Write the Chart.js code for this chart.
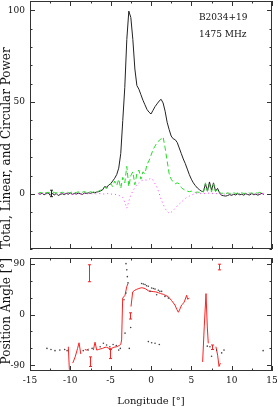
<!DOCTYPE html>
<html>
<head>
<meta charset="utf-8">
<script src="https://cdn.jsdelivr.net/npm/chart.js@4.4.0/dist/chart.umd.min.js"></script>
<style>
  html, body { margin: 0; padding: 0; background: #fff; }
  #wrap { position: relative; width: 278px; height: 407px; }
  canvas { position: absolute; left: 0; }
  #powerChart { top: 0; }
  #paChart { top: 253px; }
</style>
</head>
<body>
<div id="wrap">
  <canvas id="powerChart" width="278" height="253"></canvas>
  <canvas id="paChart" width="278" height="154"></canvas>
</div>
<script>
  // longitude grid (deg) for the profile panel
  const lon = [
    -14, -13.75, -13.5, -13.25, -13, -12.75, -12.5, -12.25, -12, -11.75,
    -11.5, -11.25, -11, -10.75, -10.5, -10.25, -10, -9.75, -9.5, -9.25,
    -9, -8.75, -8.5, -8.25, -8, -7.75, -7.5, -7.25, -7, -6.75,
    -6.5, -6.25, -6, -5.75, -5.5, -5.25, -5, -4.75, -4.5, -4.25,
    -4, -3.75, -3.5, -3.25, -3, -2.75, -2.5, -2.25, -2, -1.75,
    -1.5, -1.25, -1, -0.75, -0.5, -0.25, 0, 0.25, 0.5, 0.75,
    1, 1.25, 1.5, 1.75, 2, 2.25, 2.5, 2.75, 3, 3.25,
    3.5, 3.75, 4, 4.25, 4.5, 4.75, 5, 5.25, 5.5, 5.75,
    6, 6.25, 6.5, 6.75, 7, 7.25, 7.5, 7.75, 8, 8.25,
    8.5,
    8.75, 9, 9.25, 9.5, 9.75, 10, 10.25, 10.5, 10.75, 11,
    11.25, 11.5, 11.75, 12, 12.25, 12.5, 12.75, 13, 13.25, 13.5,
    13.75, 14
  ];

  const totalPower = [
    0.3, -0.2, 0.4, -0.5, 0.2, 0.6, -0.8, 0.3, -0.6, 0.2,
    -0.9, -0.3, 0.1, -0.4, 0.3, -0.2, 0.5, -0.3, 0.2, -0.1,
    0.4, 0.1, -0.3, 0.5, 0.2, 0.6, 0.3, 0.8, 0.6, 1.0,
    1.2, 1.6, 2.2, 4.0, 3.6, 4.8, 5.5, 7.0, 8.5, 10.5,
    14, 22, 40, 58, 84, 99.5, 96, 84, 68, 59,
    57, 54, 51, 48.5, 46, 44.5, 43.5, 45.5, 47.5, 49,
    50.5, 51.5, 49.5, 45, 39, 35, 31.5, 30, 29.5, 28,
    25, 22, 19, 16.5, 13.5, 10.5, 8, 6, 4.5, 3.2,
    2.3, 1.5, 1.2, 5.5, 1.5, 6.5, 2, 6, 1.5, 3,
    0.5,
    -0.8, -1, -1.2, -0.9, -0.4, -0.8, -0.2, -0.6, 0.1, -0.5,
    -0.2, -0.7, 0.1, -0.4, -0.6, 0.2, -0.5, -0.1, -0.7, -0.2,
    0.3, -0.3
  ];

  const linearPower = [
    0.2, 0.8, 0.5, 1.0, 0.6, 0.9, 0.4, 1.2, 0.7, 0.5,
    1.1, 0.6, 0.9, 0.4, 1.0, 0.7, 0.5, 1.2, 0.6, 0.8,
    1.1, 0.5, 0.9, 1.3, 0.7, 1.0, 1.2, 0.8, 1.4, 1.1,
    1.5, 2.0, 2.5, 3.5, 3, 4, 5.5, 4, 7, 4.5,
    8, 3, 9, 6, 15, 4, 10, 12, 5, 11,
    13, 8, 12, 11, 16, 18, 21, 24, 26, 28,
    29, 30, 31, 25, 18, 11, 8, 6.5, 5.5, 6,
    5.5, 3.5, 2.5, 2.0, 1.5, 1.2, 1.5, 1.0, 0.8, 1.0,
    0.8, 1.5, 1.0, 6, 1.5, 5, 1, 5.5, 1.2, 2.5,
    0.8,
    0.2, 0.5, 0.1, 0.6, 0.2, 0.4, 0.7, 0.1, 0.5, 0.3,
    0.6, 0.2, 0.4, 0.8, 0.3, 0.5, 0.1, 0.6, 0.4, 0.9,
    0.3, 0.5
  ];

  const circularPower = [
    0.2, -0.3, 0.1, 0.3, -0.2, 0.4, 0, -0.3, 0.2, 0.1,
    -0.2, 0.3, 0, 0.2, -0.1, 0.3, 0.1, -0.2, 0.2, 0,
    0.3, -0.1, 0.1, 0.2, -0.2, 0.1, 0.3, 0, 0.2, -0.1,
    0.1, 0.2, 0, -0.1, 0.1, 0.2, -0.2, 0, -0.2, -0.5,
    -0.8, -1.2, -2, -4.5, -7.8, -4, -0.5, 1.5, 3.5, 5,
    6, 7, 7.5, 7.6, 7.5, 8, 8.5, 7.5, 5.5, 3.5,
    0.5, -3, -5.5, -8, -9.5, -10.5, -10, -9, -7.8, -6.5,
    -5.5, -4.5, -3.5, -2.5, -1.8, -1.2, -0.6, -0.2, 0.2, 0.5,
    0.3, 0.2, 0.4, 0.1, 0.3, 0.5, 0.2, 0.3, 0.1, 0.2,
    0,
    -0.2, 0.1, -0.3, 0.2, 0, -0.2, 0.3, -0.1, 0.1, 0.2,
    -0.3, 0, 0.2, -0.2, 0.1, 0.3, -0.1, 0, 0.2, -0.2,
    0.1, 0.3
  ];

  // off-pulse error bar on the total power
  const powerErrLon = [-12.4];
  const powerErrLo = [-1.5];
  const powerErrHi = [2];

  // position angle swing (red), null = break in the curve
  const paLon = [
    -10.25, -10.12, -10.05, -9.7, -9.4, -9.1, -8.92, -8.7, -8.5, -8.2,
    -7.95, -7.75, -7.4, -7.15, -6.94, -6.73, -6.5, -6.3, -6.0, -5.7,
    -5.5, -5.2, -4.9, -4.6, -4.25, -3.95, -3.75, -3.64, -3.51, -3.22,
    -3.01, -2.85, -2.6, -2.48, -2.27, -2.0, -1.78, -1.5, -1.16, -0.74,
    -0.33, 0, 0.29, 0.6, 0.91, 1.2, 1.53, 1.85, 2.15, 2.56,
    2.97, 3.2, 3.39, 3.6, 3.8, 4.09, 4.42, 4.54, 4.75, 5.5,
    6.4, 6.6, 6.82, 6.98, 7.1, 7.6, 8.05, 8.26, 8.43, 8.6
  ];
  const paVal = [
    -57, -98, null, -86, -75, -60, -50, -70, null, -62,
    -63, -61, null, -63, -49, -63, -62, -61, -60, -58,
    -58, -60, -60, -58, -57, -55, -53, -45, 29, 34,
    49, 55, null, 14, 40, 43, 44.5, 46, 47.5, 46,
    42, 41, 40.5, 40, 38.6, 37, 35.7, 33.5, 31.5, 24.4,
    16.8, 9, 4, 10, 17, 21, 34, 27, 29, null,
    -84, -22, 37, -22, -51, null, -57, -72, -92, -86
  ];

  const paErrLon = [-7.64, -7.6, -5.08, -2.6, 7.56, 8.43];
  const paErrLo = [58, -92, -78, -8, -62, 79];
  const paErrHi = [88, -75, -62, 3, -54, 89];

  // single-bin position angles (black dots)
  const dotLon = [
    -12.9, -12.4, -11.9, -11.3, -10.7, -10.4, -8.4, -7.8, -7.3, -6.3,
    -5.9, -5.5, -5.1, -4.7, -4.3, -4.0, -3.8, -3.35, -3.1, -3.1,
    -3.0, -2.93, -2.85, -3.22, -2.52, -2.69, -1.16, -0.95, -0.74, -0.55,
    -0.33, -0.12, 0.08, 0.3, 0.5, 0.7, 0.91, 1.1, 1.32, 1.73,
    2.15, -0.33, 0.08, 0.5, 1.03, 6.98, 7.31, 7.51, 8.14, 8.76,
    9.05, 13.9
  ];
  const dotVal = [
    -60, -62, -64, -63, -62, -64, -64, -63, -60, -57,
    -51, -54, -57, -53, -55, -63, -60, 26, 38, 90,
    79, 67, 56, -33, -23, -60, 55, 54, 53, 51,
    50, 41, 47, 46, 45, 35, 43, 41, 41, 32,
    29, -48, -50, -51, -53, -56, -57, -74, -63, -68,
    -63, -64
  ];

  const lonTicks = [-15, -10, -5, 0, 5, 10, 15];
  const powerTicks = [0, 50, 100];
  const paTicks = [-90, 0, 90];
  const sourceLabels = ['B2034+19', '1475 MHz'];

  const serif = 'DejaVu Serif';
  const ink = '#111';

  const xy = (xs, ys) => xs.map((x, i) => ({ x: x, y: ys[i] }));

  // fixed axis sizes, no extra room for edge labels
  const fixWidth = w => s => { s.width = w; s.paddingTop = 0; s.paddingBottom = 0; };
  const fixHeight = h => s => { s.height = h; s.paddingLeft = 0; s.paddingRight = 0; };

  // box around the plot with inward ticks on all four sides
  function makeFrame(xStep, xMajor, yStep, yMajor) {
    return {
      id: 'frame',
      afterDatasetsDraw(chart) {
        const { ctx, chartArea: a, scales } = chart;
        const sx = scales.x, sy = scales.y;
        ctx.save();
        ctx.strokeStyle = '#333';
        ctx.lineWidth = 1;
        ctx.strokeRect(a.left + 0.5, a.top + 0.5, a.right - a.left - 1, a.bottom - a.top - 1);
        ctx.beginPath();
        for (let v = Math.ceil(sx.min / xStep) * xStep; v <= sx.max; v += xStep) {
          const p = Math.round(sx.getPixelForValue(v)) + 0.5;
          const len = xMajor.includes(v) ? 5 : 2.5;
          ctx.moveTo(p, a.top); ctx.lineTo(p, a.top + len);
          ctx.moveTo(p, a.bottom); ctx.lineTo(p, a.bottom - len);
        }
        for (let v = Math.ceil(sy.min / yStep) * yStep; v <= sy.max; v += yStep) {
          const p = Math.round(sy.getPixelForValue(v)) + 0.5;
          const len = yMajor.includes(v) ? 5 : 2.5;
          ctx.moveTo(a.left, p); ctx.lineTo(a.left + len, p);
          ctx.moveTo(a.right, p); ctx.lineTo(a.right - len, p);
        }
        ctx.stroke();
        ctx.restore();
      }
    };
  }

  function makeErrorBars(xs, lo, hi, color) {
    return {
      id: 'errorBars',
      afterDatasetsDraw(chart) {
        const { ctx, scales } = chart;
        ctx.save();
        ctx.strokeStyle = color;
        ctx.lineWidth = 1;
        ctx.beginPath();
        xs.forEach((x, i) => {
          const px = Math.round(scales.x.getPixelForValue(x)) + 0.5;
          const y1 = scales.y.getPixelForValue(lo[i]);
          const y2 = scales.y.getPixelForValue(hi[i]);
          ctx.moveTo(px, y1); ctx.lineTo(px, y2);
          ctx.moveTo(px - 1.5, y1); ctx.lineTo(px + 1.5, y1);
          ctx.moveTo(px - 1.5, y2); ctx.lineTo(px + 1.5, y2);
        });
        ctx.stroke();
        ctx.restore();
      }
    };
  }

  const sourceText = {
    id: 'sourceText',
    afterDraw(chart) {
      const { ctx, chartArea: a } = chart;
      ctx.save();
      ctx.fillStyle = ink;
      ctx.font = '9px "' + serif + '"';
      ctx.textAlign = 'left';
      ctx.textBaseline = 'middle';
      ctx.fillText(sourceLabels[0], a.right - 73, a.top + 17);
      ctx.fillText(sourceLabels[1], a.right - 73, a.top + 34);
      ctx.restore();
    }
  };

  const lineStyle = { pointRadius: 0, tension: 0, borderWidth: 1, fill: false, spanGaps: false };

  new Chart(document.getElementById('powerChart'), {
    type: 'line',
    data: {
      datasets: [
        Object.assign({ data: xy(lon, circularPower), borderColor: '#ff40ff', borderDash: [1, 3] }, lineStyle),
        Object.assign({ data: xy(lon, linearPower), borderColor: '#22dd22', borderDash: [5, 3] }, lineStyle),
        Object.assign({ data: xy(lon, totalPower), borderColor: '#222' }, lineStyle)
      ]
    },
    options: {
      responsive: false,
      devicePixelRatio: 1,
      animation: false,
      layout: { padding: { left: 0, right: 6, top: 1, bottom: 4 } },
      plugins: { legend: { display: false }, tooltip: { enabled: false } },
      scales: {
        x: { type: 'linear', min: -15, max: 15, display: false },
        y: {
          min: -30,
          max: 105,
          afterFit: fixWidth(30),
          afterBuildTicks(s) { s.ticks = powerTicks.map(v => ({ value: v })); },
          grid: { display: false, drawTicks: false },
          border: { display: false },
          ticks: { font: { family: serif, size: 9 }, color: ink, padding: 5 },
          title: {
            display: true,
            text: 'Total, Linear, and Circular Power',
            align: 'start',
            font: { family: serif, size: 12 },
            color: ink,
            padding: 0
          }
        }
      }
    },
    plugins: [makeFrame(2.5, lonTicks, 10, powerTicks), makeErrorBars(powerErrLon, powerErrLo, powerErrHi, '#222'), sourceText]
  });

  new Chart(document.getElementById('paChart'), {
    type: 'line',
    data: {
      datasets: [
        { data: xy(dotLon, dotVal), showLine: false, pointRadius: 0.8, pointBorderWidth: 0, pointBackgroundColor: '#444' },
        Object.assign({ data: xy(paLon, paVal), borderColor: '#ff2020' }, lineStyle)
      ]
    },
    options: {
      responsive: false,
      devicePixelRatio: 1,
      animation: false,
      layout: { padding: { left: 0, right: 6, top: 5, bottom: 0 } },
      plugins: { legend: { display: false }, tooltip: { enabled: false } },
      scales: {
        x: {
          type: 'linear',
          min: -15,
          max: 15,
          afterFit: fixHeight(36),
          afterBuildTicks(s) { s.ticks = lonTicks.map(v => ({ value: v })); },
          grid: { display: false, drawTicks: false },
          border: { display: false },
          ticks: { font: { family: serif, size: 9 }, color: ink, padding: 4, maxRotation: 0 },
          title: {
            display: true,
            text: 'Longitude [°]',
            font: { family: serif, size: 10 },
            color: ink,
            padding: 0
          }
        },
        y: {
          min: -100,
          max: 100,
          afterFit: fixWidth(30),
          afterBuildTicks(s) { s.ticks = paTicks.map(v => ({ value: v })); },
          grid: { display: false, drawTicks: false },
          border: { display: false },
          ticks: { font: { family: serif, size: 9 }, color: ink, padding: 5 },
          title: {
            display: true,
            text: 'Position Angle [°]',
            align: 'end',
            font: { family: serif, size: 12 },
            color: ink,
            padding: 0
          }
        }
      }
    },
    plugins: [makeFrame(2.5, lonTicks, 30, paTicks), makeErrorBars(paErrLon, paErrLo, paErrHi, '#ff2020')]
  });
</script>
</body>
</html>
